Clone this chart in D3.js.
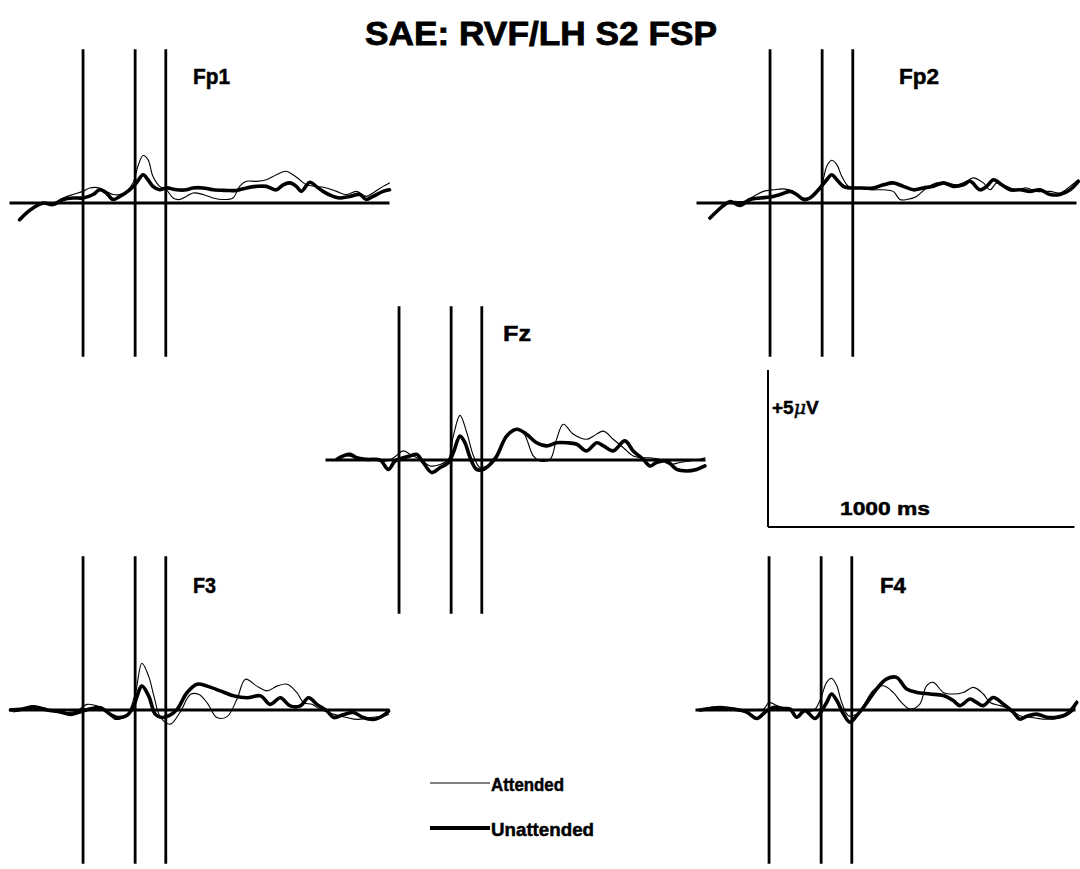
<!DOCTYPE html>
<html>
<head>
<meta charset="utf-8">
<script src="https://cdn.jsdelivr.net/npm/d3@7"></script>
<style>
    body { margin: 0; background: #fff; }
    svg { display: block; }
    text { font-family: "Liberation Sans", Arial, sans-serif; font-weight: bold; fill: #000; stroke: #000; stroke-width: 0.5; }
</style>
</head>
<body>
<div id="chart"></div>
<script>
// ms relative to S2 onset, amplitude in microvolts
var channels = ['Fp1', 'Fp2', 'Fz', 'F3', 'F4'];
var markerTimes = [0, 170, 270];
var conditions = ['Attended', 'Unattended'];

var fp1Attended = [[-196,-0.42],[-163,-0.16],[-130,0],[-98,0],[-65,0.16],[-33,0.27],[0,0.37],[22,0.48],[54,0.48],[76,0.37],[98,0.27],[120,0.27],[141,0.37],[163,0.64],[179,1.17],[196,1.51],[212,1.38],[228,0.85],[250,0.53],[272,0.42],[294,0.16],[315,0.11],[337,0.21],[359,0.32],[392,0.27],[424,0.16],[457,0.11],[489,0.16],[511,0.53],[533,0.69],[566,0.69],[598,0.74],[631,0.9],[663,1.01],[685,0.9],[707,0.74],[729,0.58],[761,0.53],[794,0.48],[827,0.37],[859,0.27],[892,0.37],[924,0.21],[946,0.32],[979,0.53],[1000,0.64]];
var fp1Unattended = [[-207,-0.53],[-185,-0.32],[-163,-0.16],[-130,0],[-98,-0.05],[-65,0.11],[-33,0.16],[0,0.16],[33,0.27],[54,0.42],[76,0.32],[98,0.11],[120,0.21],[152,0.42],[174,0.64],[196,0.9],[212,0.74],[228,0.53],[250,0.42],[272,0.48],[305,0.42],[337,0.42],[359,0.48],[392,0.48],[424,0.42],[468,0.4],[500,0.4],[533,0.48],[566,0.53],[598,0.53],[631,0.42],[653,0.58],[674,0.64],[696,0.53],[712,0.37],[740,0.66],[761,0.53],[783,0.37],[816,0.21],[837,0.16],[870,0.21],[903,0.27],[924,0.11],[946,0.21],[979,0.37],[1000,0.42]];

var fp2Attended = [[-185,-0.37],[-152,-0.08],[-120,0.05],[-87,0.05],[-54,0.21],[-22,0.37],[11,0.42],[43,0.45],[76,0.37],[109,0.16],[141,0.21],[168,0.58],[185,1.17],[201,1.36],[218,1.22],[234,0.85],[256,0.53],[283,0.48],[326,0.42],[370,0.42],[402,0.37],[424,0.11],[446,0.11],[478,0.21],[511,0.48],[544,0.64],[576,0.64],[609,0.58],[641,0.69],[663,0.8],[696,0.64],[718,0.42],[740,0.64],[772,0.53],[805,0.42],[837,0.48],[870,0.37],[914,0.37],[946,0.32],[979,0.53],[1006,0.74]];
var fp2Unattended = [[-196,-0.48],[-174,-0.27],[-152,-0.08],[-130,0.05],[-98,-0.08],[-65,0.11],[-33,0.16],[0,0.19],[33,0.27],[65,0.37],[87,0.27],[109,0.11],[130,0.16],[163,0.48],[185,0.74],[201,0.9],[218,0.74],[239,0.53],[261,0.48],[283,0.48],[337,0.48],[370,0.58],[402,0.64],[435,0.53],[468,0.42],[500,0.48],[533,0.53],[566,0.64],[598,0.53],[631,0.58],[653,0.69],[685,0.42],[707,0.53],[729,0.74],[756,0.58],[783,0.42],[816,0.42],[848,0.37],[881,0.42],[914,0.27],[946,0.27],[979,0.42],[1006,0.69]];

var fzAttended = [[-203,0],[-171,0.13],[-138,0.07],[-95,0.02],[-40,-0.03],[-18,0.07],[14,0.29],[36,0.18],[69,0.02],[101,-0.19],[134,-0.14],[161,0.02],[177,0.76],[199,1.42],[221,0.87],[243,0.13],[264,-0.24],[286,-0.19],[308,-0.03],[340,0.55],[373,0.98],[405,0.87],[438,0.13],[460,-0.03],[493,0.02],[514,0.66],[536,1.14],[569,0.82],[612,0.66],[634,0.76],[667,0.92],[699,0.66],[732,0.39],[764,0.13],[797,0.07],[819,0.07],[851,0.02],[884,-0.14],[917,-0.08],[949,-0.03],[982,0.02],[998,0.07]];
var fzUnattended = [[-203,0.02],[-182,0.13],[-160,0.18],[-138,0.07],[-105,0.02],[-62,0],[-35,-0.3],[-13,-0.03],[14,0.07],[36,0.13],[58,0.18],[79,-0.08],[107,-0.4],[134,-0.24],[161,-0.08],[177,0.23],[199,0.76],[215,0.55],[232,0.07],[253,-0.3],[275,-0.3],[297,-0.14],[319,0.13],[351,0.76],[384,0.98],[416,0.82],[449,0.55],[482,0.45],[514,0.55],[547,0.55],[580,0.5],[612,0.29],[645,0.55],[667,0.45],[699,0.29],[737,0.61],[764,0.29],[797,0.02],[819,-0.19],[840,-0.08],[873,-0.03],[906,-0.3],[939,-0.35],[971,-0.3],[998,-0.19]];

var f3Attended = [[-226,-0.06],[-183,0.02],[-139,0.04],[-96,-0.03],[-52,-0.08],[-20,-0.03],[13,0.18],[46,0.13],[78,-0.03],[105,-0.3],[144,-0.14],[171,0.55],[192,1.49],[214,1.08],[231,0.45],[253,-0.24],[285,-0.45],[316,-0.08],[351,0.5],[377,0.5],[405,0.23],[437,-0.24],[470,-0.21],[502,0.34],[530,0.98],[567,0.76],[600,0.61],[633,0.76],[666,0.82],[698,0.55],[720,0.23],[747,0.18],[774,0.02],[818,-0.14],[861,-0.24],[894,-0.3],[938,-0.24],[981,-0.19],[997,-0.14]];
var f3Unattended = [[-237,0],[-204,0.02],[-161,0.1],[-117,0],[-74,-0.06],[-41,-0.14],[0,-0.03],[24,0.04],[57,0.07],[89,-0.14],[111,-0.24],[144,-0.17],[165,0.13],[192,0.76],[214,0.45],[236,-0.14],[258,-0.24],[279,-0.19],[307,0.02],[339,0.55],[372,0.82],[405,0.76],[448,0.61],[492,0.45],[535,0.39],[579,0.45],[611,0.18],[644,0.39],[676,0.13],[709,0.13],[736,0.39],[763,0.18],[796,-0.03],[818,-0.24],[851,-0.14],[883,-0.08],[914,-0.24],[948,-0.3],[981,-0.17],[997,-0.03]];

var f4Attended = [[-225,-0.02],[-171,0.08],[-116,0.03],[-62,-0.02],[-18,0.03],[0,0.24],[25,0.14],[58,0.03],[101,0.01],[145,-0.02],[166,0.3],[188,0.88],[204,1.01],[221,0.77],[237,0.24],[259,-0.18],[286,-0.13],[308,0.14],[340,0.62],[373,0.77],[405,0.56],[432,0.24],[460,0.03],[492,0.19],[514,0.77],[536,0.88],[569,0.56],[601,0.51],[634,0.56],[667,0.72],[699,0.51],[721,0.24],[754,0.14],[786,0.03],[818,-0.18],[851,-0.23],[895,-0.29],[928,-0.29],[960,-0.23],[993,-0.02],[1004,0.3]];
var f4Unattended = [[-225,0],[-192,0.05],[-160,0.08],[-116,0.03],[-73,-0.07],[-40,-0.27],[-13,-0.07],[14,0.08],[47,0.05],[69,0.03],[90,-0.23],[117,-0.02],[150,-0.27],[172,-0.02],[188,0.24],[204,0.51],[221,0.3],[243,-0.13],[264,-0.39],[286,-0.18],[308,0.08],[351,0.67],[384,0.99],[416,1.04],[449,0.67],[482,0.56],[525,0.51],[569,0.46],[601,0.3],[623,0.14],[656,0.35],[677,0.24],[699,0.14],[732,0.4],[764,0.19],[797,-0.07],[818,-0.29],[841,-0.2],[873,-0.13],[906,-0.23],[938,-0.23],[971,-0.13],[1004,0.24]];

var series = {
    Fp1: [fp1Attended, fp1Unattended],
    Fp2: [fp2Attended, fp2Unattended],
    Fz:  [fzAttended, fzUnattended],
    F3:  [f3Attended, f3Unattended],
    F4:  [f4Attended, f4Unattended]
};

// where each panel sits on the page (left of epoch, baseline y, label anchor)
var layout = {
    Fp1: {x: 9.5,   y: 203, lx: 193, ly: 84,  lw: 37},
    Fp2: {x: 696.5, y: 203, lx: 899, ly: 84,  lw: 40},
    Fz:  {x: 325.5, y: 460, lx: 503, ly: 341, lw: 28},
    F3:  {x: 9.5,   y: 710, lx: 193, ly: 593, lw: 23},
    F4:  {x: 695.5, y: 710, lx: 880, ly: 593, lw: 26}
};

var width = 1080, height = 869;

var x = d3.scaleLinear().domain([-240, 1000]).range([0, 380]);
var y = d3.scaleLinear().domain([-5, 5]).range([157, -157]);

var line = d3.line()
    .x(function(d) { return x(d[0]); })
    .y(function(d) { return y(d[1]); })
    .curve(d3.curveCatmullRom.alpha(0.5));

var strokeW = [1.1, 3.6];

var svg = d3.select('#chart').append('svg')
    .attr('width', width)
    .attr('height', height);

svg.append('text')
    .attr('x', 365).attr('y', 45)
    .attr('font-size', 33)
    .style('stroke-width', 0.8)
    .attr('textLength', 352).attr('lengthAdjust', 'spacingAndGlyphs')
    .text('SAE: RVF/LH S2 FSP');

channels.forEach(function(ch) {
    var p = layout[ch];
    var g = svg.append('g')
        .attr('class', 'panel')
        .attr('transform', 'translate(' + p.x + ',' + p.y + ')');

    g.selectAll('.marker')
        .data(markerTimes)
      .enter().append('line')
        .attr('class', 'marker')
        .attr('x1', function(d) { return x(d); })
        .attr('x2', function(d) { return x(d); })
        .attr('y1', y(4.9))
        .attr('y2', y(-4.9))
        .attr('stroke', '#000')
        .attr('stroke-width', 2.8);

    g.append('line')
        .attr('x1', x(-240)).attr('x2', x(1000))
        .attr('y1', y(0)).attr('y2', y(0))
        .attr('stroke', '#000')
        .attr('stroke-width', 3);

    g.selectAll('.wave')
        .data(series[ch])
      .enter().append('path')
        .attr('class', 'wave')
        .attr('d', line)
        .attr('fill', 'none')
        .attr('stroke', '#000')
        .attr('stroke-linejoin', 'round')
        .attr('stroke-linecap', 'round')
        .attr('stroke-width', function(d, i) { return strokeW[i]; });

    svg.append('text')
        .attr('x', p.lx).attr('y', p.ly)
        .attr('font-size', 22)
        .attr('textLength', p.lw).attr('lengthAdjust', 'spacingAndGlyphs')
        .text(ch);
});

// calibration bar: 5 uV by 1000 ms, drawn with the panel scales
var cal = svg.append('g').attr('transform', 'translate(768,' + (527 - y(0)) + ')');
cal.append('line')
    .attr('x1', 0).attr('x2', 0)
    .attr('y1', y(0)).attr('y2', y(5))
    .attr('stroke', '#000').attr('stroke-width', 2);
cal.append('line')
    .attr('x1', 0).attr('x2', x(1000) - x(0))
    .attr('y1', y(0)).attr('y2', y(0))
    .attr('stroke', '#000').attr('stroke-width', 2);

var uv = svg.append('text')
    .attr('x', 772).attr('y', 414)
    .attr('font-size', 19);
uv.append('tspan').text('+5');
uv.append('tspan').attr('font-style', 'italic').attr('font-family', 'DejaVu Serif, serif').attr('font-weight', 'normal').text('\u03bc');
uv.append('tspan').text('V');

svg.append('text')
    .attr('x', 840).attr('y', 515)
    .attr('font-size', 19)
    .attr('textLength', 90).attr('lengthAdjust', 'spacingAndGlyphs')
    .text('1000 ms');

// legend
var legend = svg.append('g').attr('class', 'legend');
var legendRows = [{y: 783, ty: 791, tw: 73}, {y: 828, ty: 836, tw: 103}];
conditions.forEach(function(c, i) {
    var r = legendRows[i];
    legend.append('line')
        .attr('x1', 430).attr('x2', 490)
        .attr('y1', r.y).attr('y2', r.y)
        .attr('stroke', '#000')
        .attr('stroke-width', i === 0 ? 1 : 4);
    legend.append('text')
        .attr('x', 491).attr('y', r.ty)
        .attr('font-size', 19)
        .attr('textLength', r.tw).attr('lengthAdjust', 'spacingAndGlyphs')
        .text(c);
});
</script>
</body>
</html>
